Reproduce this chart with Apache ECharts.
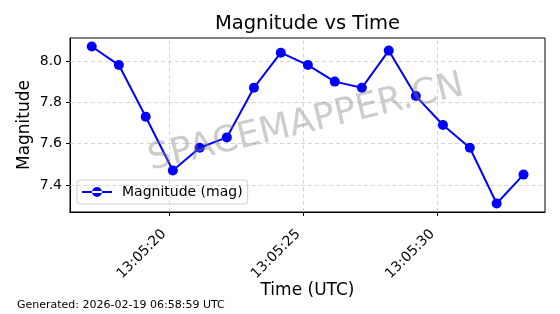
<!DOCTYPE html>
<html><head><meta charset="utf-8">
<script src="https://cdn.jsdelivr.net/npm/echarts@6/dist/echarts.min.js"></script>
<style>html,body{margin:0;padding:0;background:#fff}#c{width:560px;height:314px}</style>
</head><body><div id="c"></div>
<script>
// seconds after 13:05:00 UTC
const times = [17.13,18.14,19.14,20.15,21.15,22.16,23.17,24.17,25.18,26.18,27.19,28.19,29.20,30.21,31.21,32.21,33.21];
const magnitudes = [8.07,7.98,7.73,7.47,7.58,7.63,7.87,8.04,7.98,7.90,7.87,8.05,7.83,7.69,7.58,7.31,7.45];
const xTicks = [20,25,30];
const yTicks = [7.4,7.6,7.8,8.0];
const seriesName = 'Magnitude (mag)';
const FONT = 'DejaVu Sans';
const fmtT = s => '13:05:' + String(Math.round(s)).padStart(2,'0');

const chart = echarts.init(document.getElementById('c'));
chart.setOption({
  animation:false,
  textStyle:{fontFamily:FONT},
  grid:{left:70,right:15,top:38,bottom:102,show:true,borderColor:'#000',borderWidth:1,containLabel:false},
  legend:{left:77,top:180,itemWidth:30,itemHeight:10,padding:[5,5,5,5],borderColor:'#d0d0d0',borderWidth:1,borderRadius:3,backgroundColor:'rgba(255,255,255,0.8)',
    textStyle:{fontFamily:FONT,fontSize:14,color:'#000',padding:[0,0,0,5]},itemGap:4,
    data:[{name:seriesName,icon:'path://M0,4h30v2H0z M10,5a5,5 0 1,0 10,0a5,5 0 1,0 -10,0z'}]},
  xAxis:{type:'value',min:16.32,max:34.01,
    name:'Time (UTC)',nameLocation:'middle',nameGap:70,nameMoveOverlap:false,nameTextStyle:{fontFamily:FONT,fontSize:17,color:'#000'},
    axisLine:{show:true,lineStyle:{color:'#000'}},
    axisTick:{show:true,inside:false,length:4,lineStyle:{color:'#000'},customValues:xTicks},
    axisLabel:{customValues:xTicks,rotate:45,fontFamily:FONT,fontSize:14,color:'#000',margin:15,padding:[0,7,0,0],formatter:v=>fmtT(v)},
    splitLine:{show:false}},
  yAxis:{type:'value',min:7.269,max:8.111,
    name:'Magnitude',nameLocation:'middle',nameGap:37,nameMoveOverlap:false,nameTextStyle:{fontFamily:FONT,fontSize:17,color:'#000'},
    axisLine:{show:true,lineStyle:{color:'#000'}},
    axisTick:{show:true,inside:false,length:4,lineStyle:{color:'#000'},customValues:yTicks},
    axisLabel:{customValues:yTicks,fontFamily:FONT,fontSize:14,color:'#000',margin:8,formatter:v=>v.toFixed(1)},
    splitLine:{show:false}},
  graphic:[
    {type:'text',x:307.5,y:24,style:{text:'Magnitude vs Time',fontFamily:FONT,fontSize:19.5,fill:'#000',align:'center',verticalAlign:'middle'}},
    {type:'text',left:17,top:300,style:{text:'Generated: 2026-02-19 06:58:59 UTC',fontFamily:FONT,fontSize:11,fill:'#000'}},
    {type:'text',x:306,y:123,rotation:13.5*Math.PI/180,z:100,style:{text:'SPACEMAPPER.CN',fontFamily:FONT,fontSize:36,fill:'rgba(128,128,128,0.4)',align:'center',verticalAlign:'middle'}}
  ],
  series:[
    {type:'line',name:'grid',data:[],silent:true,
      markLine:{silent:true,symbol:'none',label:{show:false},lineStyle:{color:'#cccccc',type:[4,3],width:0.8},
        data:xTicks.map(v=>({xAxis:v})).concat(yTicks.map(v=>({yAxis:v})))}},
    {type:'line',name:seriesName,data:times.map((t,i)=>[t,magnitudes[i]]),
      symbol:'circle',symbolSize:10,showSymbol:true,
      lineStyle:{color:'#0000ff',width:2},itemStyle:{color:'#0000ff'},z:5}
  ]
});
</script></body></html>
